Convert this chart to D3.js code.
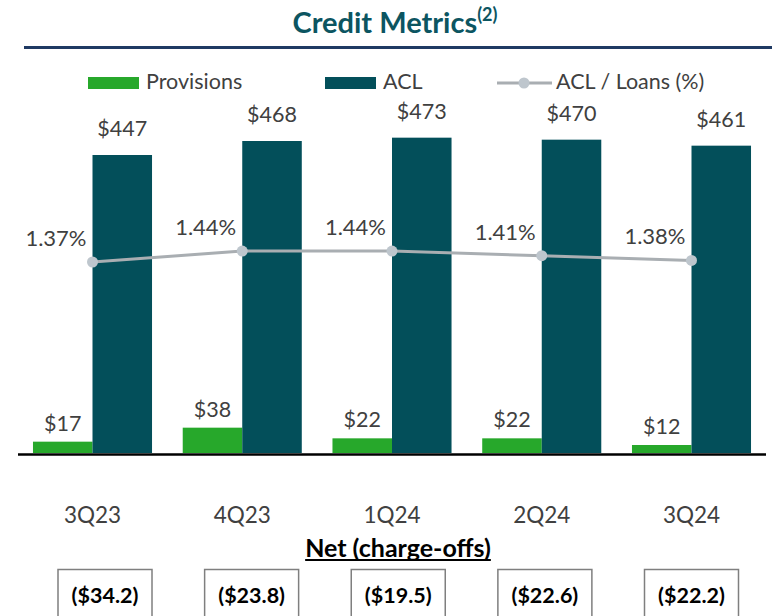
<!DOCTYPE html>
<html>
<head>
<meta charset="utf-8">
<script src="https://cdn.jsdelivr.net/npm/d3@7/dist/d3.min.js"></script>
<style>
  html, body { margin: 0; padding: 0; background: #fff; }
  svg { display: block; font-family: Lato, "Open Sans", sans-serif; }
</style>
</head>
<body>
<svg id="chart" width="772" height="616"></svg>
<script>
// ---- data ----
const categories = ["3Q23", "4Q23", "1Q24", "2Q24", "3Q24"];
const provisions = [17, 38, 22, 22, 12];
const acl = [447, 468, 473, 470, 461];
const aclToLoans = [1.37, 1.44, 1.44, 1.41, 1.38];
const netChargeOffs = ["($34.2)", "($23.8)", "($19.5)", "($22.6)", "($22.2)"];
const seriesNames = ["Provisions", "ACL"];
const lineName = "ACL / Loans (%)";
const titleText = "Credit Metrics";
const titleNote = "(2)";
const subTitle = "Net (charge-offs)";

// ---- style ----
const GREEN = "#27A82B";
const TEAL = "#034F5A";
const LINE = "#A9AEB2";
const MARKER = "#BEC6CD";
const TXT = "#404040";

const svg = d3.select("#chart");

// Title
const title = svg.append("text")
  .attr("x", 395).attr("y", 33)
  .attr("text-anchor", "middle")
  .attr("fill", "#0C5561")
  .attr("font-weight", "bold")
  .attr("font-size", 29);
title.append("tspan").text(titleText);
title.append("tspan").attr("font-size", 18).attr("dy", -12).text(titleNote);

svg.append("line")
  .attr("x1", 24).attr("x2", 772).attr("y1", 47.5).attr("y2", 47.5)
  .attr("stroke", "#1F3A63").attr("stroke-width", 3);

// Scales
const x0 = d3.scaleBand().domain(categories).range([18, 766])
  .paddingInner(0.205).paddingOuter(0.1);
const x1 = d3.scaleBand().domain(seriesNames).range([0, x0.bandwidth()]);
const y = d3.scaleLinear().domain([0, 600]).range([453, 53]);
const y2 = d3.scaleLinear().domain([1.30, 1.50]).range([273, 241.6]);

const rows = categories.map((c, i) => ({
  cat: c,
  vals: [
    { key: "Provisions", v: provisions[i], color: GREEN },
    { key: "ACL", v: acl[i], color: TEAL }
  ]
}));

// Bars
const groups = svg.append("g").selectAll("g").data(rows).join("g")
  .attr("transform", d => `translate(${x0(d.cat)},0)`);

groups.selectAll("rect").data(d => d.vals).join("rect")
  .attr("x", d => x1(d.key))
  .attr("width", x1.bandwidth())
  .attr("y", d => y(d.v))
  .attr("height", d => y(0) - y(d.v))
  .attr("fill", d => d.color);

groups.selectAll("text.val").data(d => d.vals).join("text")
  .attr("class", "val")
  .attr("x", d => x1(d.key) + x1.bandwidth() / 2)
  .attr("y", d => y(d.v) - (d.key === "ACL" ? 19 : 11))
  .attr("text-anchor", "middle")
  .attr("font-size", 21.5)
  .attr("fill", TXT)
  .text(d => "$" + d.v);

// Baseline
svg.append("line")
  .attr("x1", 18).attr("x2", 766).attr("y1", 454.5).attr("y2", 454.5)
  .attr("stroke", "#000").attr("stroke-width", 2.5);

// Category axis
const xAxis = svg.append("g")
  .attr("transform", "translate(0,454)")
  .call(d3.axisBottom(x0).tickSize(0).tickPadding(53));
xAxis.select(".domain").remove();
xAxis.selectAll("text")
  .attr("font-family", "Lato, 'Open Sans', sans-serif")
  .attr("font-size", 22.5)
  .attr("fill", TXT);

// Line series
const cx = c => x0(c) + x0.bandwidth() / 2;
const lineGen = d3.line().x((d, i) => cx(categories[i])).y(d => y2(d));
svg.append("path")
  .datum(aclToLoans)
  .attr("d", lineGen)
  .attr("fill", "none")
  .attr("stroke", LINE)
  .attr("stroke-width", 3);

svg.append("g").selectAll("circle").data(aclToLoans).join("circle")
  .attr("cx", (d, i) => cx(categories[i]))
  .attr("cy", d => y2(d))
  .attr("r", 5.5)
  .attr("fill", MARKER);

svg.append("g").selectAll("text").data(aclToLoans).join("text")
  .attr("x", (d, i) => cx(categories[i]) - 6)
  .attr("y", d => y2(d) - 16)
  .attr("text-anchor", "end")
  .attr("font-size", 22)
  .attr("fill", TXT)
  .text(d => d.toFixed(2) + "%");

// Legend
const legend = svg.append("g");
const legendItems = [
  { name: seriesNames[0], type: "rect", color: GREEN, x: 88 },
  { name: seriesNames[1], type: "rect", color: TEAL, x: 325 },
  { name: lineName, type: "line", color: LINE, x: 497 }
];
legendItems.forEach(it => {
  if (it.type === "rect") {
    legend.append("rect").attr("x", it.x).attr("y", 77).attr("width", 51).attr("height", 12)
      .attr("fill", it.color);
  } else {
    legend.append("line").attr("x1", it.x).attr("x2", it.x + 55).attr("y1", 83).attr("y2", 83)
      .attr("stroke", it.color).attr("stroke-width", 3);
    legend.append("circle").attr("cx", it.x + 27).attr("cy", 83).attr("r", 5.5).attr("fill", MARKER);
  }
  legend.append("text")
    .attr("x", it.x + (it.type === "rect" ? 58 : 59))
    .attr("y", 89)
    .attr("font-size", 21.5)
    .attr("fill", TXT)
    .text(it.name);
});

// Net charge-offs
const sub = svg.append("text")
  .attr("x", 398).attr("y", 557)
  .attr("text-anchor", "middle")
  .attr("font-weight", "bold")
  .attr("font-size", 25)
  .attr("fill", "#000")
  .text(subTitle);
const sb = sub.node().getBBox();
svg.append("line")
  .attr("x1", sb.x).attr("x2", sb.x + sb.width)
  .attr("y1", 560).attr("y2", 560)
  .attr("stroke", "#000").attr("stroke-width", 2);

const xb = d3.scalePoint().domain(categories).range([105, 691.5]);
const boxes = svg.append("g").selectAll("g").data(categories).join("g")
  .attr("transform", c => `translate(${xb(c)},0)`);
boxes.append("rect")
  .attr("x", -47).attr("y", 569.5).attr("width", 94).attr("height", 60)
  .attr("fill", "#fff").attr("stroke", "#7F7F7F").attr("stroke-width", 1.5);
boxes.append("text")
  .attr("x", 0).attr("y", 603)
  .attr("text-anchor", "middle")
  .attr("font-weight", "bold")
  .attr("font-size", 21.5)
  .attr("fill", "#000")
  .text((c, i) => netChargeOffs[i]);
</script>
</body>
</html>
